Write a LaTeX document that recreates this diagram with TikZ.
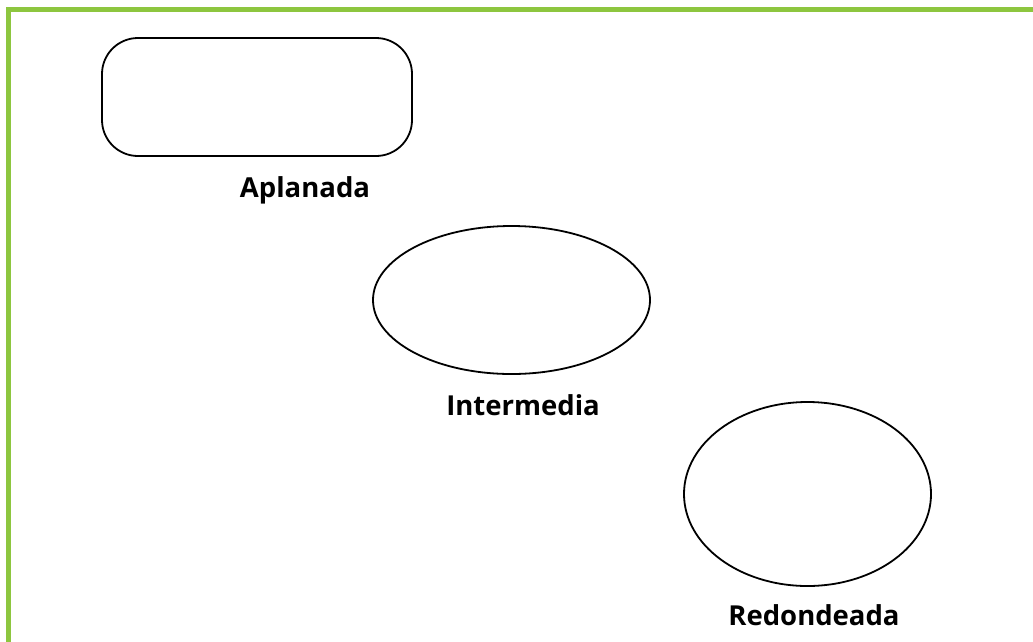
\documentclass[tikz,border=0pt]{standalone}
\usepackage{fontspec}
\setmainfont{Open Sans}
\usetikzlibrary{shapes.geometric}
\definecolor{framegreen}{RGB}{141,198,63}
\tikzset{
  shapeline/.style={draw=black, line width=1.8pt, inner sep=0pt, outer sep=0pt},
  flatbox/.style={shapeline, rectangle, rounded corners=36pt},
  oval/.style={shapeline, ellipse},
  caption/.style={anchor=base, inner sep=0pt, font=\fontsize{27.5}{32}\selectfont\bfseries}
}
\begin{document}
\begin{tikzpicture}[x=1pt,y=-1pt]
\useasboundingbox (0,0) rectangle (1033,641);
\draw[framegreen, line width=5.5pt, line join=miter] (8.5,645) -- (8.5,9.5) -- (1040,9.5);
\node[flatbox, minimum width=310pt, minimum height=118pt] (aplanada) at (257,97) {};
\node[caption] (laplanada) at (305,197) {Aplanada};
\node[oval, minimum width=277pt, minimum height=148pt] (intermedia) at (511.5,300) {};
\node[caption] (lintermedia) at (523,415) {Intermedia};
\node[oval, minimum width=247pt, minimum height=184pt] (redondeada) at (807.5,494) {};
\node[caption] (lredondeada) at (814,625) {Redondeada};
\end{tikzpicture}
\end{document}
